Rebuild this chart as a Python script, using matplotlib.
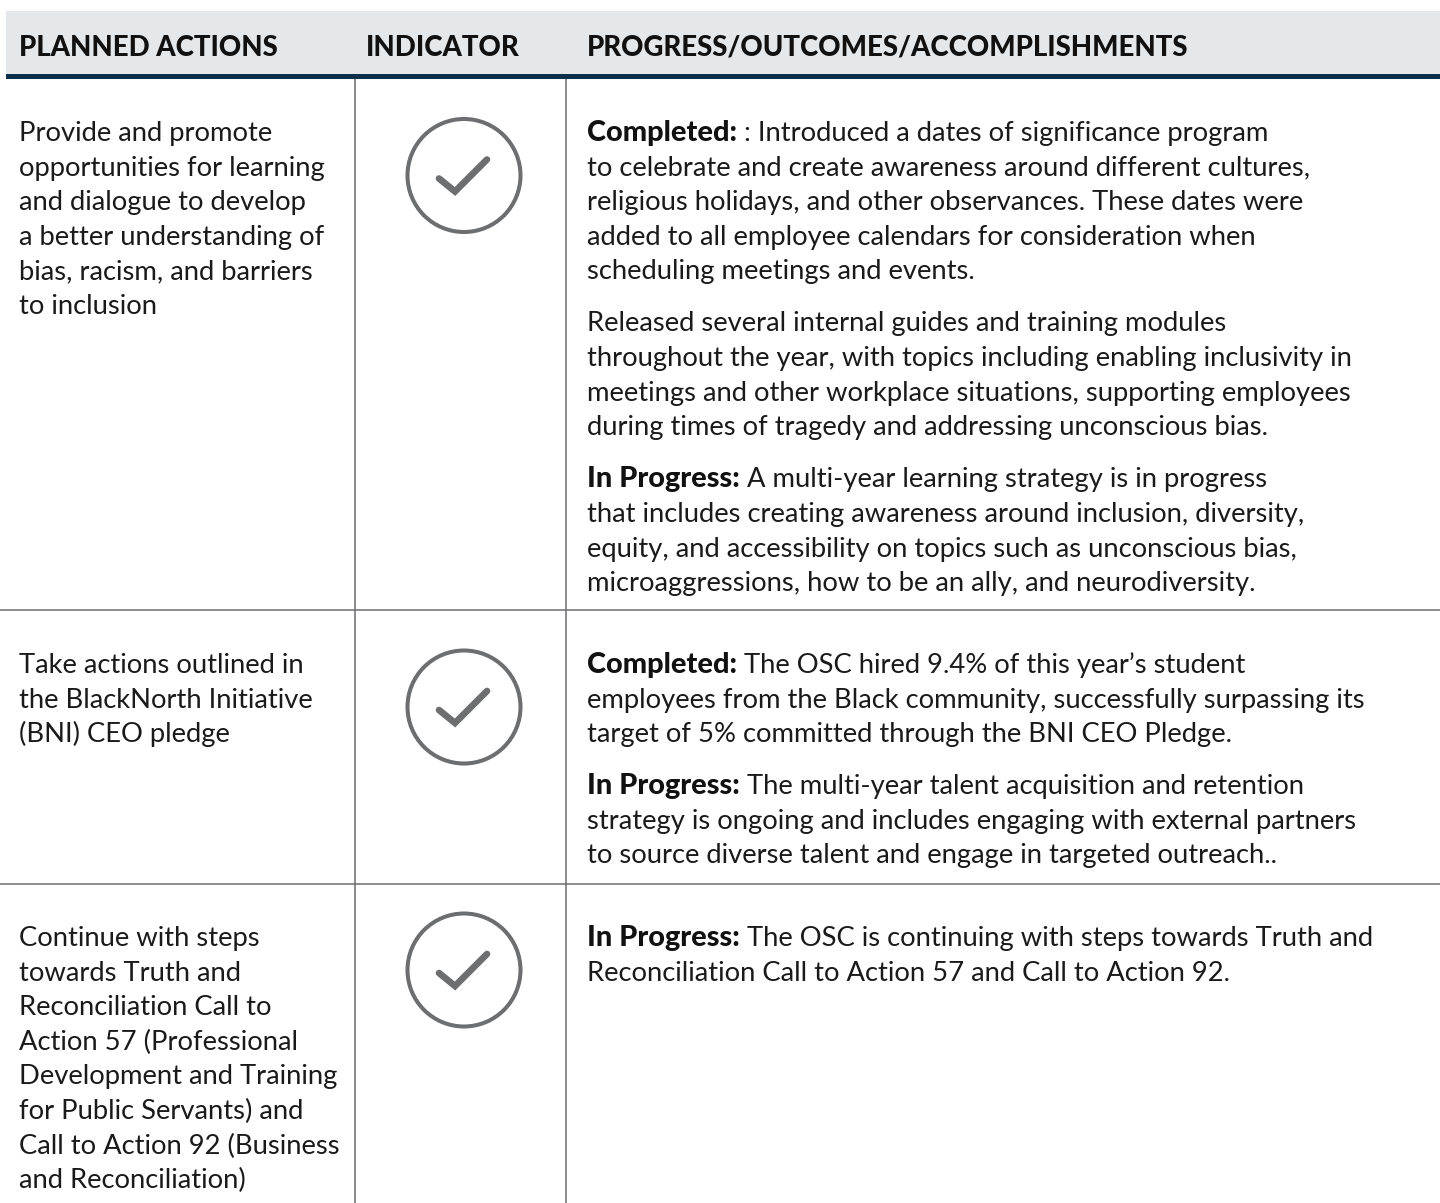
import matplotlib
matplotlib.use('Agg')
import matplotlib.pyplot as plt
from matplotlib.patches import Rectangle, Circle

W, H = 1440, 1203
FONT = 'Lato'

# Table content
##########################################
headers = ['PLANNED ACTIONS', 'INDICATOR', 'PROGRESS/OUTCOMES/ACCOMPLISHMENTS']

actions = [
    ['Provide and promote', 'opportunities for learning', 'and dialogue to develop',
     'a better understanding of', 'bias, racism, and barriers', 'to inclusion'],
    ['Take actions outlined in', 'the BlackNorth Initiative', '(BNI) CEO pledge'],
    ['Continue with steps', 'towards Truth and', 'Reconciliation Call to',
     'Action 57 (Professional', 'Development and Training', 'for Public Servants) and',
     'Call to Action 92 (Business', 'and Reconciliation)'],
]

# each paragraph is (bold lead, list of lines)
outcomes = [
    [('Completed:', [' : Introduced a dates of significance program',
                     'to celebrate and create awareness around different cultures,',
                     'religious holidays, and other observances. These dates were',
                     'added to all employee calendars for consideration when',
                     'scheduling meetings and events.']),
     ('', ['Released several internal guides and training modules',
           'throughout the year, with topics including enabling inclusivity in',
           'meetings and other workplace situations, supporting employees',
           'during times of tragedy and addressing unconscious bias.']),
     ('In Progress:', [' A multi-year learning strategy is in progress',
                       'that includes creating awareness around inclusion, diversity,',
                       'equity, and accessibility on topics such as unconscious bias,',
                       'microaggressions, how to be an ally, and neurodiversity.'])],
    [('Completed:', [' The OSC hired 9.4% of this year\u2019s student',
                     'employees from the Black community, successfully surpassing its',
                     'target of 5% committed through the BNI CEO Pledge.']),
     ('In Progress:', [' The multi-year talent acquisition and retention',
                       'strategy is ongoing and includes engaging with external partners',
                       'to source diverse talent and engage in targeted outreach..'])],
    [('In Progress:', [' The OSC is continuing with steps towards Truth and',
                       'Reconciliation Call to Action 57 and Call to Action 92.'])],
]

# Layout (pixels)
##########################################
fs_body = 19.7
fs_lead = 20.8
fs_head = 19.9
line_h = 34.6
para_gap = 17.5
col_x = [19, 366, 587]
row_base = [141, 673, 946]   # baseline of first line per row
row_lines = [610, 884]
icon_y = [175.5, 707, 970]
icon_x = 464
grey = '#6d6e70'

fig = plt.figure(figsize=(W / 100, H / 100), dpi=100)
ax = fig.add_axes([0, 0, 1, 1])
ax.set_xlim(0, W)
ax.set_ylim(H, 0)
ax.axis('off')

# header band
ax.add_patch(Rectangle((6, 11), W - 6, 63, fc='#e4e8eb', ec='none'))
ax.add_patch(Rectangle((6, 74), W - 6, 5, fc='#0b3048', ec='none'))
for x, h in zip(col_x, headers):
    ax.text(x, 55.5, h, fontsize=fs_head, fontfamily=FONT, fontweight='black',
            color='#111111', va='baseline')

# grid lines
for x in [355, 566]:
    ax.plot([x, x], [79, H], color=grey, lw=1.1, solid_capstyle='butt')
for y in row_lines:
    ax.plot([0, W], [y, y], color=grey, lw=1.1, solid_capstyle='butt')

renderer = fig.canvas.get_renderer()

# left column
for lines, y0 in zip(actions, row_base):
    for i, line in enumerate(lines):
        ax.text(col_x[0], y0 + i * line_h, line, fontsize=fs_body, fontfamily=FONT,
                color='#1a1a1a', va='baseline')

# indicator icons
for y in icon_y:
    ax.add_patch(Circle((icon_x, y), 56.5, fc='none', ec=grey, lw=2.9))
    ax.plot([icon_x - 25, icon_x - 9, icon_x + 23], [y + 3, y + 16, y - 16], color=grey,
            lw=4.8, solid_capstyle='round', solid_joinstyle='miter')

# right column, bold lead runs straight into the regular text
for paras, y0 in zip(outcomes, row_base):
    y = y0
    for lead, lines in paras:
        x = col_x[2]
        if lead:
            t = ax.text(x, y, lead, fontsize=fs_lead, fontfamily=FONT, fontweight='black',
                        color='#111111', va='baseline')
            x = ax.transData.inverted().transform(t.get_window_extent(renderer))[1][0]
        for i, line in enumerate(lines):
            ax.text(x if i == 0 else col_x[2], y + i * line_h, line.replace(' ', '\u00a0', 1) if i == 0 else line,
                    fontsize=fs_body, fontfamily=FONT, color='#1a1a1a', va='baseline')
        y += len(lines) * line_h + para_gap

fig.savefig('out.png', dpi=100, facecolor='white')
